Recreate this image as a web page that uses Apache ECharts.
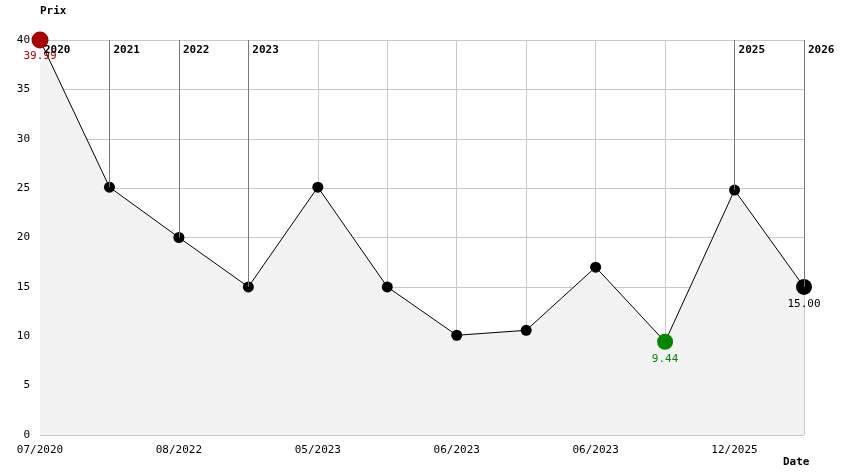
<!DOCTYPE html>
<html>
<head>
<meta charset="utf-8">
<script src="https://cdn.jsdelivr.net/npm/echarts@6/dist/echarts.min.js"></script>
<style>body{margin:0;background:#fff}#c{width:844px;height:474px}</style>
</head>
<body>
<div id="c"></div>
<script>
// données
var prix = [39.99, 25.1, 20, 15, 25.1, 15, 10.1, 10.6, 17, 9.44, 24.8, 15];
var dateLabels = ['07/2020', '', '08/2022', '', '05/2023', '', '06/2023', '', '06/2023', '', '12/2025', ''];
var yearIdx = [0, 1, 2, 3, 10, 11];
var yearLabels = ['2020', '2021', '2022', '2023', '2025', '2026'];
var minIdx = 9, maxIdx = 0, lastIdx = 11;

var mono = 'DejaVu Sans Mono';
var pts = prix.map(function (v, i) {
	var p = { value: [i, v], symbolSize: 11, itemStyle: { color: '#000' } };
	if (i == maxIdx) {
		p.symbolSize = 17; p.itemStyle = { color: '#aa0000' };
		p.label = { show: true, position: 'bottom', distance: 2, color: '#aa0000', formatter: v.toFixed(2) };
	} else if (i == minIdx) {
		p.symbolSize = 16; p.itemStyle = { color: '#008800' };
		p.label = { show: true, position: 'bottom', distance: 4, color: '#008800', formatter: v.toFixed(2) };
	} else if (i == lastIdx) {
		p.symbolSize = 16;
		p.label = { show: true, position: 'bottom', distance: 4, color: '#000', formatter: v.toFixed(2) };
	}
	return p;
});

var myChart = echarts.init(document.getElementById('c'));
var option = {
	animation: false,
	textStyle: { fontFamily: mono },
	grid: { left: 40, right: 40, top: 40, bottom: 39 },
	xAxis: {
		type: 'value', min: 0, max: 11, interval: 1,
		axisLine: { show: false }, axisTick: { show: false },
		splitLine: { lineStyle: { color: '#c8c8c8' } },
		axisLabel: { fontFamily: mono, fontSize: 11, color: '#000', margin: 10,
			formatter: function (v) { return dateLabels[v] || ''; } }
	},
	yAxis: {
		type: 'value', min: 0, max: 40, interval: 5,
		axisLine: { show: false }, axisTick: { show: false },
		splitLine: { lineStyle: { color: '#c8c8c8' } },
		axisLabel: { fontFamily: mono, fontSize: 11, color: '#000', margin: 10 }
	},
	series: [{
		type: 'line',
		data: pts,
		symbol: 'circle',
		lineStyle: { color: '#000', width: 1 },
		areaStyle: { color: '#f2f2f2', opacity: 1 },
		label: { fontFamily: mono, fontSize: 11 },
		markLine: {
			silent: true, symbol: 'none',
			lineStyle: { color: '#777', type: 'solid', width: 1 },
			label: { show: false },
			data: yearIdx.map(function (x) { return [{ coord: [x, 40] }, { coord: [x, prix[x]] }]; })
		},
		z: 3
	}]
};
myChart.setOption(option);

// textes : années, noms des axes, légende
var g = [];
yearIdx.forEach(function (x, k) {
	var p = myChart.convertToPixel({ gridIndex: 0 }, [x, 40]);
	g.push({ type: 'text', x: p[0] + 4, y: p[1] + 5, z: 10,
		style: { text: yearLabels[k], fill: '#000', font: 'bold 11px "DejaVu Sans Mono"' } });
});
g.push({ type: 'text', x: 40, y: 6, style: { text: 'Prix', fill: '#000', font: 'bold 11px "DejaVu Sans Mono"' } });
g.push({ type: 'text', x: 783, y: 457, style: { text: 'Date', fill: '#000', font: 'bold 11px "DejaVu Sans Mono"' } });
var leg = [['Initial : 39.99', '#000'], ['Mini : 9.44', '#008800'], ['Max : 39.99', '#cc0000'], ['Actuel : 15.00', '#000']];
leg.forEach(function (l, i) {
	g.push({ type: 'text', x: 50, y: 379 + i * 14, style: { text: l[0], fill: l[1], font: '11px "DejaVu Sans Mono"' } });
});
myChart.setOption({ graphic: g });
</script>
</body>
</html>
